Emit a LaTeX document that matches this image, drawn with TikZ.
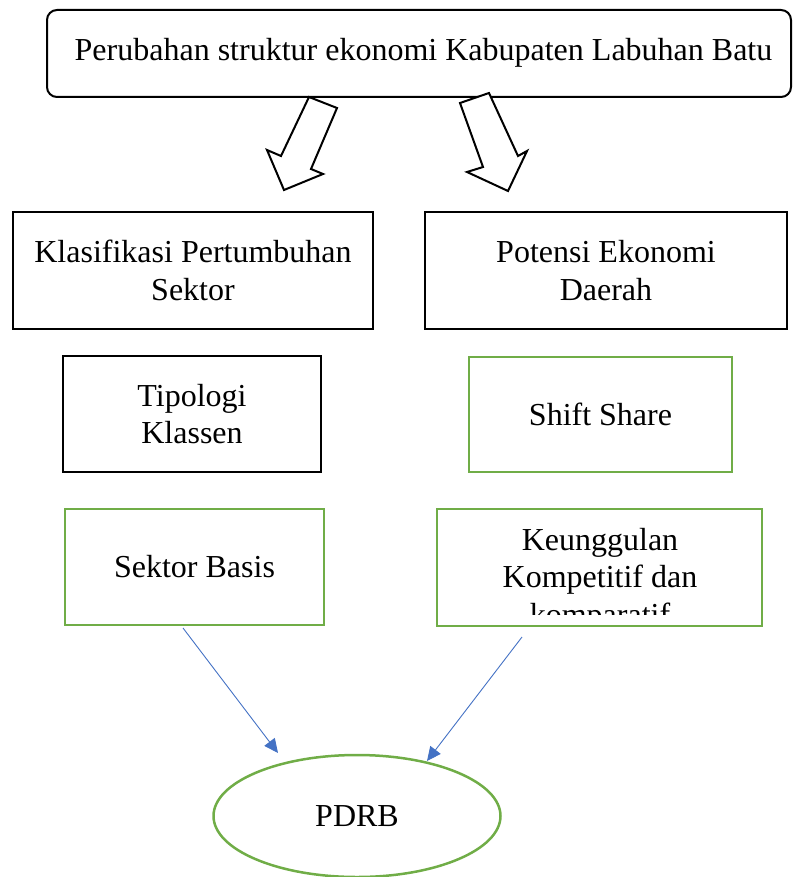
\documentclass[tikz,border=0pt]{standalone}
\usepackage{fontspec}
\setmainfont{Liberation Serif}
\usetikzlibrary{shapes.geometric,arrows.meta}
\definecolor{boxgreen}{RGB}{112,173,71}
\definecolor{arrowblue}{RGB}{68,114,196}
\begin{document}
\begin{tikzpicture}[x=1pt,y=-1pt,
  every node/.style={font=\fontsize{32}{37.5}\selectfont, inner sep=0pt},
  blackbox/.style={draw=black, line width=2pt, rectangle, align=center},
  greenbox/.style={draw=boxgreen, line width=2.5pt, rectangle, align=center},
  blockarrow/.style={draw=black, line width=2pt, fill=white, line join=miter},
  flow/.style={draw=arrowblue, line width=0.9pt, -{Triangle[length=14pt,width=13pt]}}
]
\useasboundingbox (0,0) rectangle (792,877);

% top box
\node[draw=black, line width=2pt, rounded corners=10pt, minimum width=744pt, minimum height=87pt] (top) at (419,53.5) {\raisebox{8pt}{\hspace*{9pt}Perubahan struktur ekonomi Kabupaten Labuhan Batu}};

% block arrows
\draw[blockarrow] (309,97) -- (337,108) -- (311,169) -- (323,174) -- (284,190) -- (267,150) -- (281,156) -- cycle;
\draw[blockarrow] (460,103) -- (489,93) -- (518,156) -- (527,151) -- (508,191) -- (467,172) -- (483,167) -- cycle;

% second row
\node[blackbox, minimum width=360pt, minimum height=117pt] (klas) at (193,270.5) {Klasifikasi Pertumbuhan\\Sektor};
\node[blackbox, minimum width=362pt, minimum height=117pt] (pot) at (606,270.5) {Potensi Ekonomi\\Daerah};

% third row
\node[blackbox, minimum width=258pt, minimum height=116pt] (tipo) at (192,414) {Tipologi\\Klassen};
\node[greenbox, minimum width=263pt, minimum height=115pt] (shift) at (600.5,414.5) {Shift Share};

% fourth row
\node[greenbox, minimum width=259pt, minimum height=116pt] (basis) at (194.5,567) {Sektor Basis};
\begin{scope}
  \clip (437,509) rectangle (762,614);
  \node[align=center] (keungtext) at (600,580) {Keunggulan\\Kompetitif dan\\komparatif};
\end{scope}
\node[greenbox, minimum width=325pt, minimum height=117pt] (keung) at (599.5,567.5) {};

% ellipse
\node[draw=boxgreen, line width=2.5pt, ellipse, minimum width=287pt, minimum height=122pt] (pdrb) at (357,816) {PDRB};

% connectors
\coordinate (s1) at (183,628);
\coordinate (e1) at (278,753);
\coordinate (s2) at (522,637);
\coordinate (e2) at (427,761);
\draw[flow] (s1) -- (e1);
\draw[flow] (s2) -- (e2);
\end{tikzpicture}
\end{document}
